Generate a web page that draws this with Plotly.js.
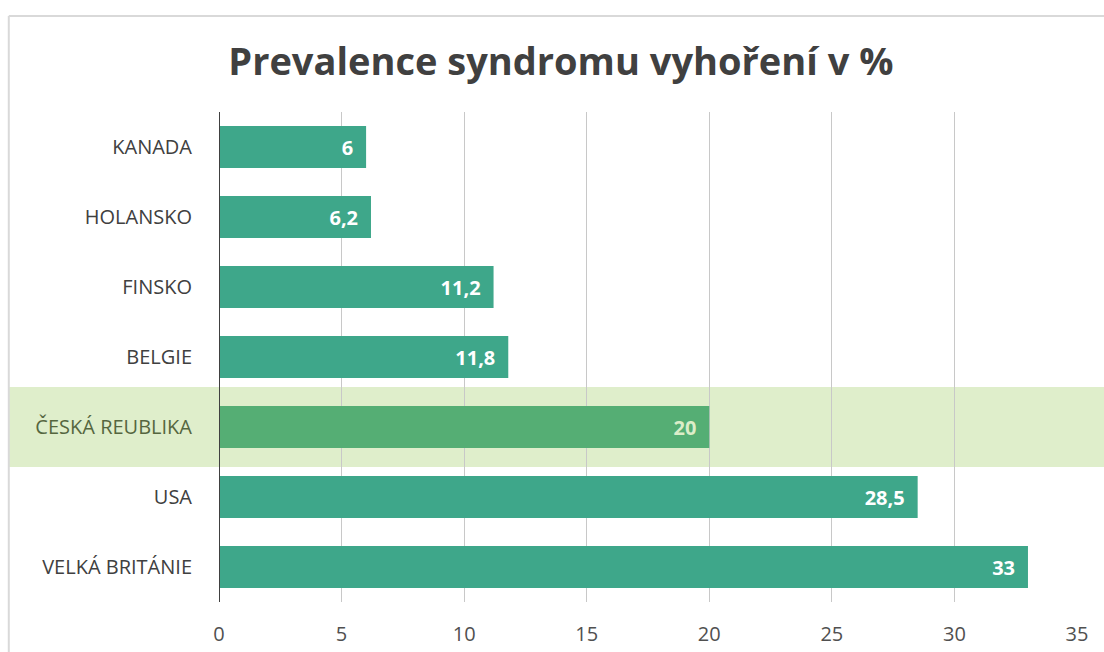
<!DOCTYPE html>
<html>
<head>
<meta charset="utf-8">
<script src="https://cdn.plot.ly/plotly-3.0.1.min.js"></script>
<style>html,body{margin:0;padding:0;background:#fff;}#chart{width:1104px;height:652px;}</style>
</head>
<body>
<div id="chart"></div>
<script>
const categories = ["KANADA", "HOLANSKO", "FINSKO", "BELGIE", "ČESKÁ REUBLIKA", "USA", "VELKÁ BRITÁNIE"];
const values = [6, 6.2, 11.2, 11.8, 20, 28.5, 33];
const highlight = "ČESKÁ REUBLIKA";
const tickValues = [0, 5, 10, 15, 20, 25, 30, 35];

const baseColor = "#3ea78a";
const hiColor = "#55ae74";
const barColors = categories.map(c => c === highlight ? hiColor : baseColor);
const textColors = categories.map(c => c === highlight ? "#dcedc8" : "#ffffff");
const hiIndex = categories.indexOf(highlight);

const font = "Open Sans, Noto Sans, sans-serif";

const trace = {
  type: "bar",
  orientation: "h",
  y: categories.map((c, i) => i),
  x: values,
  marker: {color: barColors, line: {width: 0}},
  width: 0.6,
  text: values.map(v => String(v).replace(".", ",") + "\u2009\u2009\u2009"),
  textposition: "inside",
  insidetextanchor: "end",
  textfont: {family: font, size: 20, color: textColors, weight: "bold"},
  hoverinfo: "skip",
  cliponaxis: false
};

const ticktext = categories.map(c => c === highlight
  ? '<span style="color:#55663f">' + c + '</span>' : c);

const layout = {
  width: 1104, height: 652,
  margin: {l: 219, r: 27, t: 112, b: 50},
  paper_bgcolor: "#ffffff",
  plot_bgcolor: "rgba(0,0,0,0)",
  showlegend: false,
  title: {
    text: "<b>Prevalence syndromu vyhoření v %</b>",
    font: {family: font, size: 38, color: "#404040"},
    x: 0.508, xanchor: "center", y: 0.905, yanchor: "middle"
  },
  xaxis: {
    range: [0, 35], tickvals: tickValues, ticktext: tickValues.map(String),
    showgrid: true, gridcolor: "#c8c8c8", gridwidth: 1,
    zeroline: false, showline: false, ticks: "",
    tickfont: {family: font, size: 20, color: "#505050"},
    ticklabelstandoff: 18, fixedrange: true
  },
  yaxis: {
    range: [6.5, -0.5],
    tickvals: categories.map((c, i) => i), ticktext: ticktext,
    showgrid: false, zeroline: false, showline: false, ticks: "",
    tickfont: {family: font, size: 20, color: "#404040"},
    ticklabelstandoff: 26, fixedrange: true
  },
  shapes: [
    {type: "rect", xref: "paper", yref: "y", x0: -0.245, x1: 1.04, y0: hiIndex - 0.57, y1: hiIndex + 0.57,
     fillcolor: "#dfeecb", line: {width: 0}, layer: "below"},
    {type: "line", xref: "x", yref: "paper", x0: 0, x1: 0, y0: 0, y1: 1, line: {color: "#404040", width: 2}, layer: "above"},
    {type: "line", xref: "paper", yref: "paper", x0: -0.245, x1: 1.04, y0: 1.196, y1: 1.196, line: {color: "#d9d9d9", width: 2}},
    {type: "line", xref: "paper", yref: "paper", x0: -0.245, x1: -0.245, y0: -0.2, y1: 1.196, line: {color: "#d9d9d9", width: 2}}
  ]
};

Plotly.newPlot("chart", [trace], layout, {displayModeBar: false, staticPlot: true});
</script>
</body>
</html>
